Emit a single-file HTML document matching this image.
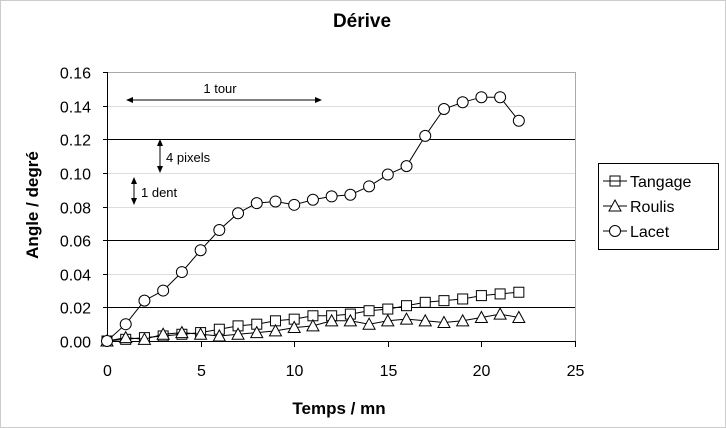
<!DOCTYPE html>
<html><head><meta charset="utf-8"><style>
body{margin:0;background:#fff;}
svg{display:block;font-family:"Liberation Sans",Arial,sans-serif;}
</style></head><body>
<svg id="c" width="726" height="428" xmlns="http://www.w3.org/2000/svg">
<rect x="0.5" y="0.5" width="725" height="427" fill="#fff" stroke="#ccc"/>
<text x="362" y="27" font-size="19" font-weight="bold" text-anchor="middle">Dérive</text>
<text x="339" y="414" font-size="17" font-weight="bold" text-anchor="middle">Temps / mn</text>
<text transform="translate(38,205) rotate(-90)" font-size="17" font-weight="bold" text-anchor="middle">Angle / degré</text>
<g id="grid"></g>
<g id="series"></g>
<!-- annotations -->
<text x="220" y="93" font-size="13" text-anchor="middle">1 tour</text>
<line x1="130" y1="100" x2="318" y2="100" stroke="#000"/>
<polygon points="126,100 133,97 133,103"/><polygon points="322,100 315,97 315,103"/>
<line x1="160" y1="143" x2="160" y2="169" stroke="#000"/>
<polygon points="160,139 157,146 163,146"/><polygon points="160,173 157,166 163,166"/>
<text x="166" y="162" font-size="13">4 pixels</text>
<line x1="134" y1="181" x2="134" y2="201" stroke="#000"/>
<polygon points="134,177 131,184 137,184"/><polygon points="134,205 131,198 137,198"/>
<text x="141" y="197" font-size="13">1 dent</text>
<!-- legend -->
<rect x="598.5" y="163.5" width="120" height="86" fill="#fff" stroke="#000"/>
<g font-size="16">
<line x1="603" y1="181" x2="627" y2="181" stroke="#000"/><rect x="610" y="176" width="10" height="10" fill="none" stroke="#000"/>
<text x="630" y="187">Tangage</text>
<line x1="603" y1="206" x2="627" y2="206" stroke="#000"/><polygon points="615,200 609,211 621,211" fill="#fff" stroke="#000"/>
<text x="630" y="212">Roulis</text>
<line x1="603" y1="231" x2="627" y2="231" stroke="#000"/><circle cx="615" cy="231" r="5.5" fill="#fff" stroke="#000"/>
<text x="630" y="237">Lacet</text>
</g>
</svg>
<script>
var NS="http://www.w3.org/2000/svg";
function el(p,t,a,txt){var e=document.createElementNS(NS,t);for(var k in a)e.setAttribute(k,a[k]);if(txt!=null)e.textContent=txt;p.appendChild(e);return e;}
var X0=107,X1=575,Y0=341,Y1=72;
function sx(v){return X0+(X1-X0)*v/25;}
function sy(v){return Y0-(Y0-Y1)*v/0.16;}
var g=document.getElementById('grid');
for(var i=0;i<=8;i++){var v=i*0.02,y=Math.round(sy(v))+0.5;
 var dark=(i==1||i==3||i==6);
 if(i>0)el(g,'line',{x1:X0,x2:X1,y1:y,y2:y,stroke:dark?'#000':'#ddd','stroke-width':1});
 el(g,'line',{x1:X0-4,x2:X0,y1:y,y2:y,stroke:'#000'});
 el(g,'text',{x:91,y:y+6,'font-size':16,'text-anchor':'end'},v.toFixed(2));}
el(g,'line',{x1:X1+0.5,x2:X1+0.5,y1:Y1,y2:Y0,stroke:'#aaa'});
el(g,'line',{x1:X0,x2:X1,y1:Y1+0.5,y2:Y1+0.5,stroke:'#aaa'});
el(g,'line',{x1:X0+0.5,x2:X0+0.5,y1:Y1,y2:Y0+1,stroke:'#000'});
el(g,'line',{x1:X0,x2:X1,y1:Y0+0.5,y2:Y0+0.5,stroke:'#000'});
for(var i=0;i<=5;i++){var x=Math.round(sx(i*5))+0.5;
 el(g,'line',{x1:x,x2:x,y1:Y0,y2:Y0+6,stroke:'#000'});
 el(g,'text',{x:x,y:376,'font-size':16,'text-anchor':'middle'},String(i*5));}
var L=[0,0.010,0.024,0.030,0.041,0.054,0.066,0.076,0.082,0.083,0.081,0.084,0.086,0.087,0.092,0.099,0.104,0.122,0.138,0.142,0.145,0.145,0.131];
var T=[0,0.001,0.002,0.003,0.004,0.005,0.007,0.009,0.010,0.012,0.013,0.015,0.015,0.016,0.018,0.019,0.021,0.023,0.024,0.025,0.027,0.028,0.029];
var R=[0,0.002,0.001,0.004,0.005,0.004,0.003,0.004,0.005,0.006,0.008,0.009,0.012,0.012,0.010,0.012,0.013,0.012,0.011,0.012,0.014,0.016,0.014];
var s=document.getElementById('series');
function draw(d,m){var pts=d.map(function(v,i){return sx(i).toFixed(1)+','+sy(v).toFixed(1)}).join(' ');
 el(s,'polyline',{points:pts,fill:'none',stroke:'#000','stroke-width':1});
 d.forEach(function(v,i){var x=sx(i),y=sy(v);
  if(m=='s')el(s,'rect',{x:x-5,y:y-5,width:10,height:10,fill:'#fff',stroke:'#000'});
  else if(m=='t')el(s,'polygon',{points:(x)+','+(y-6)+' '+(x-6)+','+(y+5)+' '+(x+6)+','+(y+5),fill:'#fff',stroke:'#000'});
  else el(s,'circle',{cx:x,cy:y,r:5.5,fill:'#fff',stroke:'#000'});});}
draw(T,'s');draw(R,'t');draw(L,'c');
</script>
</body></html>
